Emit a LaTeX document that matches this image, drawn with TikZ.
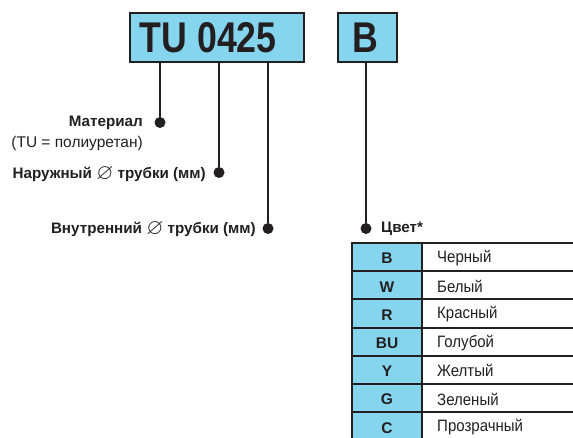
\documentclass[tikz,border=0pt]{standalone}
\usepackage{fontspec}
\usepackage{amssymb}
\usepackage{graphicx}
\setmainfont{Liberation Sans}
\newfontfamily\narrowfont[FakeStretch=0.83]{Liberation Sans}
\newfontfamily\tablefont[FakeStretch=0.91]{Liberation Sans}
\newcommand{\dia}{\raisebox{-0.1ex}{\scalebox{1.45}{$\varnothing$}}}
\definecolor{sky}{RGB}{134,213,238}
\definecolor{ink}{RGB}{35,31,32}
\tikzset{
  codebox/.style={draw=ink, line width=2pt, fill=sky, inner sep=0pt, minimum height=49pt},
  bigtxt/.style={inner sep=0pt, font=\narrowfont\fontsize{43}{43}\selectfont\bfseries, text=ink},
  conn/.style={draw=ink, line width=2pt},
  dotmark/.style={circle, fill=ink, inner sep=0pt, minimum size=11pt},
  lbl/.style={inner sep=0pt, anchor=east, font=\fontsize{15.2}{15}\selectfont\bfseries, text=ink},
  lblreg/.style={inner sep=0pt, anchor=east, font=\fontsize{15.5}{15}\selectfont, text=ink},
  cell/.style={draw=ink, line width=2pt, fill=sky},
  codetxt/.style={inner sep=0pt, font=\fontsize{15.5}{15}\selectfont\bfseries, text=ink},
  nametxt/.style={inner sep=0pt, anchor=west, font=\tablefont\fontsize{16.5}{16}\selectfont, text=ink}
}
\begin{document}
\begin{tikzpicture}[x=1pt,y=-1pt]
\useasboundingbox (0,0) rectangle (573,437);
\clip (0,0) rectangle (573,437);
% top boxes
\node[codebox, minimum width=174pt] (tu) at (217,37.5) {};
\node[bigtxt, anchor=west] (tut) at (139.5,38) {TU 0425};
\node[codebox, minimum width=59pt] (bb) at (367.5,37.5) {};
\node[bigtxt] (bbt) at (365.5,38) {B};
% dots
\node[dotmark] (d1) at (160,122.5) {};
\node[dotmark] (d2) at (219,172.5) {};
\node[dotmark] (d3) at (268,228.5) {};
\node[dotmark] (d4) at (366,228.5) {};
\draw[conn] (d1) -- (d1 |- tu.south);
\draw[conn] (d2) -- (d2 |- tu.south);
\draw[conn] (d3) -- (d3 |- tu.south);
\draw[conn] (d4) -- (d4 |- bb.south);
% labels
\node[lbl] (l1) at (143,123) {Материал};
\node[lblreg] (l1b) at (143,143) {(TU = полиуретан)};
\node[lbl] (l2) at (206,174) {Наружный \dia{} трубки (мм)};
\node[lbl] (l3) at (256,229) {Внутренний \dia{} трубки (мм)};
\node[lbl, anchor=west] (l4) at (381,229) {Цвет*};
% table
\foreach \i/\c/\n in {0/B/Черный,1/W/Белый,2/R/Красный,3/BU/Голубой,4/Y/Желтый,5/G/Зеленый,6/C/Прозрачный}{
  \draw[cell] (352,243+28.2*\i) rectangle (422,243+28.2*\i+28.2);
  \draw[conn] (422,243+28.2*\i) -- (580,243+28.2*\i);
  \node[codetxt] (c\i) at (387,258.5+28.2*\i) {\c};
  \node[nametxt] (n\i) at (437,258+28.2*\i) {\n};
}
\end{tikzpicture}
\end{document}
